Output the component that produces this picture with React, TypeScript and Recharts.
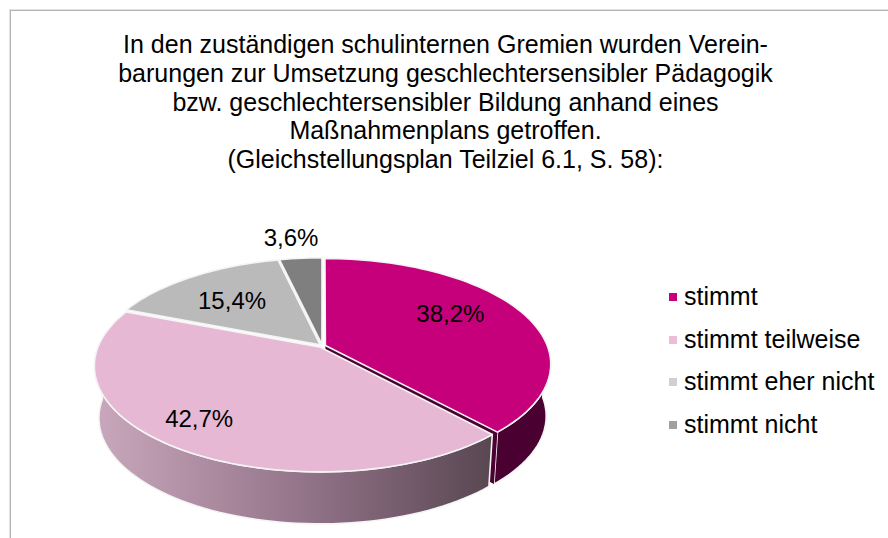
import React from "react";
import { Legend, Pie, PieChart } from "recharts";

const TITLE_LINES = [
  "In den zuständigen schulinternen Gremien wurden Verein-",
  "barungen zur Umsetzung geschlechtersensibler Pädagogik",
  "bzw. geschlechtersensibler Bildung anhand eines",
  "Maßnahmenplans getroffen.",
  "(Gleichstellungsplan Teilziel 6.1, S. 58):",
];
const CATEGORIES = ["stimmt", "stimmt teilweise", "stimmt eher nicht", "stimmt nicht"];
const SHARES = [38.2, 42.7, 15.4, 3.6];
const SLICE_COLORS = ["#c5007a", "#e6b8d4", "#bababa", "#7f7f7f"];
const LEGEND_COLORS = ["#c8007e", "#edbcd9", "#d0d0d0", "#a0a0a0"];

// where each percentage sits on the disc, as fraction of the radius and a small angle shift
const LABEL_RADII = [0.7, 0.8, 0.655, 1.307];
const LABEL_SHIFT = [-8, 3.5, -1.6, -1.1];

const tableData = CATEGORIES.map((name, i) => ({ name, value: SHARES[i], fill: SLICE_COLORS[i] }));

const FONT = '"Liberation Sans", Arial, sans-serif';
const CX = 322.3;
const CY = 346;
const RX = 222;
// fake 3d: flat disc projected with some perspective
const RY_RATIO = 102.3 / 222;
const PERSP = 0.175;
const DEPTH = 52;
const BOTTOM_SHRINK = 0.98;
const EXPLODE = 0.015;

function project(u: number, v: number, bottom = false) {
  const w = 1 - PERSP * v;
  const k = bottom ? BOTTOM_SHRINK : 1;
  return {
    x: CX + (RX * k * u) / w,
    y: CY + (RX * RY_RATIO * v) / w + (bottom ? DEPTH : 0),
  };
}

function rim(theta: number, off: { u: number; v: number }, r = 1) {
  const t = (theta * Math.PI) / 180;
  return { u: off.u + r * Math.sin(t), v: off.v - r * Math.cos(t) };
}

function arcPoints(from: number, to: number, off: { u: number; v: number }, bottom = false) {
  const pts: string[] = [];
  const n = Math.max(2, Math.ceil(Math.abs(to - from) / 2));
  for (let i = 0; i <= n; i++) {
    const p = rim(from + ((to - from) * i) / n, off);
    const q = project(p.u, p.v, bottom);
    pts.push(`${q.x.toFixed(2)},${q.y.toFixed(2)}`);
  }
  return pts;
}

function Slice3D(props: any) {
  const { startAngle, endAngle, fill, index } = props;
  const from = 90 - startAngle;
  const to = 90 - endAngle;
  const mid = (from + to) / 2;
  const t = (mid * Math.PI) / 180;
  const off = { u: EXPLODE * Math.sin(t), v: -EXPLODE * Math.cos(t) };
  const apex = project(off.u, off.v);
  const top = arcPoints(from, to, off);

  const wallFrom = Math.max(from, 90);
  const wallTo = Math.min(to, 270);
  const hasWall = wallTo > wallFrom;
  const gradId = `wall-${index}`;
  return (
    <g>
      <defs>
        <linearGradient id={gradId} gradientUnits="userSpaceOnUse" x1={95} x2={495} y1={0} y2={0}>
          <stop offset="0" stopColor="#c9a8be" />
          <stop offset="0.3" stopColor="#ab8aa0" />
          <stop offset="0.6" stopColor="#8a6c80" />
          <stop offset="1" stopColor="#574650" />
        </linearGradient>
      </defs>
      {hasWall && (
        <polygon
          points={[
            ...arcPoints(wallFrom, wallTo, off),
            ...arcPoints(wallFrom, wallTo, off, true).reverse(),
          ].join(" ")}
          fill={index === 0 ? "#4a0030" : `url(#${gradId})`}
          stroke="#f4f4f4"
          strokeWidth={1.6}
          strokeLinejoin="round"
        />
      )}
      {index === 0 && (
        <polygon
          points={[
            `${apex.x},${apex.y}`,
            arcPoints(to, to, off)[0],
            arcPoints(to, to, off, true)[0],
            `${apex.x},${apex.y + DEPTH}`,
          ].join(" ")}
          fill="#4a0030"
        />
      )}
      <polygon
        points={[`${apex.x},${apex.y}`, ...top].join(" ")}
        fill={fill}
        stroke="#f4f4f4"
        strokeWidth={1.6}
        strokeLinejoin="round"
      />
    </g>
  );
}

function renderLabel(props: any) {
  const { index, midAngle, value } = props;
  const p = rim(90 - midAngle + LABEL_SHIFT[index], { u: 0, v: 0 }, LABEL_RADII[index]);
  const q = project(p.u, p.v);
  return (
    <text
      x={q.x}
      y={q.y}
      textAnchor="middle"
      dominantBaseline="central"
      fontFamily={FONT}
      fontSize={24}
      fill="#000"
    >
      {value.toFixed(1).replace(".", ",")}%
    </text>
  );
}

function renderLegend(props: any) {
  const payload = props.payload || [];
  return (
    <div style={{ fontFamily: FONT, fontSize: 25, color: "#000" }}>
      {payload.map((entry: any, i: number) => (
        <div key={entry.value} style={{ height: 42.6, lineHeight: "42.6px", whiteSpace: "nowrap" }}>
          <span
            style={{
              display: "inline-block",
              width: 8,
              height: 8,
              marginRight: 7,
              verticalAlign: 4,
              background: LEGEND_COLORS[i],
            }}
          />
          {entry.value}
        </div>
      ))}
    </div>
  );
}

export default function App() {
  return (
    <div style={{ position: "absolute", left: 0, top: 0, width: 888, height: 538, overflow: "hidden", background: "#fff" }}>
      <div
        style={{
          position: "absolute",
          left: 10,
          top: 10,
          width: 900,
          height: 560,
          border: "1px solid #b4b4b4",
          boxShadow: "0 0 0 1px #e2e2e2",
        }}
      />
      <div
        style={{
          position: "absolute",
          left: 85.5,
          top: 30,
          width: 720,
          textAlign: "center",
          fontFamily: FONT,
          fontSize: 25,
          lineHeight: "28.8px",
          color: "#000",
          whiteSpace: "nowrap",
        }}
      >
        {TITLE_LINES.map((line) => (
          <div key={line}>{line}</div>
        ))}
      </div>
      <div style={{ position: "absolute", left: 0, top: 0 }}>
        <PieChart width={888} height={538} margin={{ top: 0, right: 0, bottom: 0, left: 0 }}>
          <Pie
            data={tableData}
            dataKey="value"
            nameKey="name"
            cx={CX}
            cy={CY}
            innerRadius={0}
            outerRadius={RX}
            startAngle={90}
            endAngle={-270}
            paddingAngle={0}
            stroke="none"
            shape={Slice3D}
            label={renderLabel}
            labelLine={false}
            isAnimationActive={false}
          />
          <Legend
            layout="vertical"
            align="left"
            verticalAlign="top"
            content={renderLegend}
            itemSorter={null}
            wrapperStyle={{ left: 669, top: 275, width: 215 }}
          />
        </PieChart>
      </div>
    </div>
  );
}
